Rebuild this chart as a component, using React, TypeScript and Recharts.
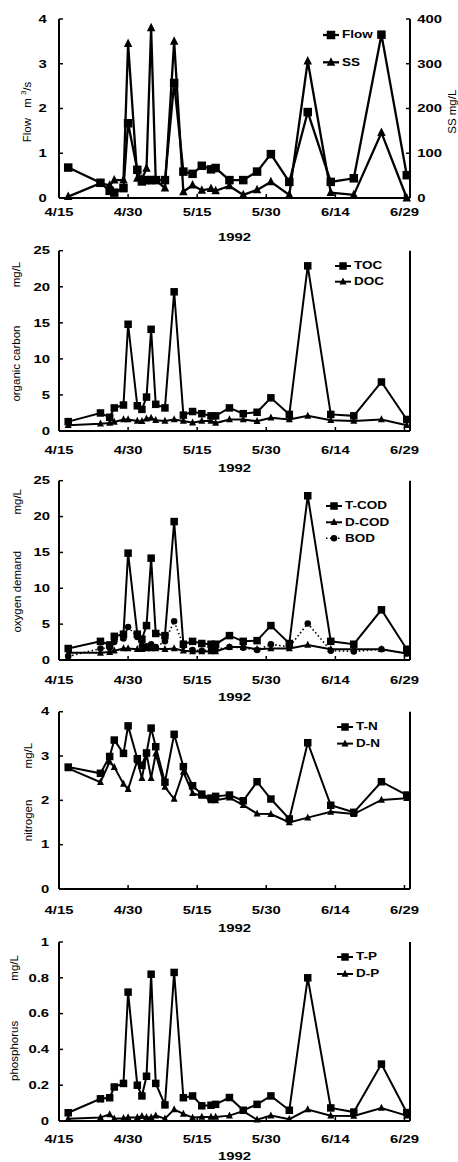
import React from "react";
import { LineChart, Line, XAxis, YAxis, Label, Legend } from "recharts";

// sampling days, counted from 4/15/1992
const days = [2, 9, 11, 12, 14, 15, 17, 18, 19, 20, 21, 23, 25, 27, 29, 31, 33, 34, 37, 40, 43, 46, 50, 54, 59, 64, 70, 75.5];
const dateTicks = [0, 15, 30, 45, 60, 75];
const dateLabels = ["4/15", "4/30", "5/15", "5/30", "6/14", "6/29"];

const flow = [0.68, 0.34, 0.16, 0.12, 0.22, 1.67, 0.63, 0.37, 0.4, 0.4, 0.4, 0.4, 2.57, 0.59, 0.54, 0.72, 0.64, 0.67, 0.4, 0.4, 0.59, 0.98, 0.36, 1.92, 0.36, 0.44, 3.65, 0.51];
const ss = [3, 33, 28, 40, 40, 345, 44, 42, 66, 380, 40, 22, 350, 14, 29, 17, 21, 16, 27, 7, 18, 36, 7, 306, 12, 7, 146, 0];

const toc = [1.3, 2.5, 1.9, 3.2, 3.6, 14.8, 3.5, 3.0, 4.7, 14.1, 3.7, 3.2, 19.3, 2.2, 2.7, 2.4, 2.1, 2.1, 3.2, 2.4, 2.6, 4.6, 2.3, 22.9, 2.3, 2.1, 6.8, 1.6];
const doc = [0.8, 1.0, 1.1, 1.25, 1.6, 1.6, 1.4, 1.35, 1.7, 1.8, 1.5, 1.4, 1.6, 1.4, 1.15, 1.4, 1.4, 1.1, 1.6, 1.6, 1.35, 1.85, 1.6, 2.1, 1.5, 1.4, 1.6, 0.8];

const tCod = [1.6, 2.6, 2.1, 3.3, 3.6, 14.9, 3.6, 2.9, 4.8, 14.2, 3.7, 3.4, 19.3, 2.2, 2.6, 2.3, 2.2, 2.2, 3.4, 2.6, 2.7, 4.8, 2.3, 22.9, 2.6, 2.2, 7.0, 1.5];
const dCod = [1.0, 1.0, 1.1, 1.3, 1.6, 1.6, 1.5, 1.5, 1.6, 1.6, 1.6, 1.5, 1.6, 1.3, 1.2, 1.2, 1.2, 1.2, 1.8, 1.8, 1.5, 1.6, 1.6, 2.1, 1.5, 1.5, 1.5, 0.9];
const bod = [0.5, 1.6, 1.7, 2.5, 3.0, 4.6, 3.2, 2.0, 1.9, 2.2, 1.8, 2.6, 5.4, 2.0, 1.4, 1.3, 1.4, 1.5, 1.8, 1.7, 1.4, 2.2, 1.8, 5.1, 1.3, 1.2, 1.5, 0.9];

const tN = [2.75, 2.61, 2.99, 3.36, 3.06, 3.68, 2.94, 2.79, 3.07, 3.63, 3.21, 2.41, 3.49, 2.76, 2.33, 2.14, 2.05, 2.09, 2.12, 1.99, 2.42, 2.03, 1.58, 3.3, 1.89, 1.73, 2.42, 2.12];
const dN = [2.72, 2.41, 2.87, 2.75, 2.37, 2.25, 2.9, 2.5, 3.05, 2.5, 3.05, 2.3, 2.03, 2.64, 2.16, 2.1, 2.0, 2.0, 2.06, 1.89, 1.7, 1.69, 1.5, 1.61, 1.74, 1.69, 2.01, 2.05];

const tP = [0.046, 0.124, 0.13, 0.19, 0.21, 0.72, 0.2, 0.14, 0.25, 0.82, 0.21, 0.09, 0.83, 0.13, 0.14, 0.085, 0.088, 0.093, 0.131, 0.06, 0.093, 0.14, 0.06, 0.8, 0.073, 0.05, 0.318, 0.047];
const dP = [0.013, 0.02, 0.037, 0.013, 0.015, 0.02, 0.02, 0.027, 0.02, 0.02, 0.03, 0.013, 0.065, 0.04, 0.019, 0.022, 0.022, 0.022, 0.03, 0.055, 0.007, 0.03, 0.01, 0.064, 0.03, 0.028, 0.073, 0.03];

const W = 458;
const PLOT_LEFT = 59;
const PLOT_RIGHT = 410;
const X_MAX = 76.2;
const SX = 1.35; // the scan is stretched sideways
const font = '"Liberation Sans", Arial, sans-serif';
const frame = { stroke: "#000", strokeWidth: 2 };
const tickLn = { stroke: "#000", strokeWidth: 1.5 };

type Marker = "square" | "triangle" | "circle";

type Series = {
  key: string;
  name: string;
  values: number[];
  marker: Marker;
  size: number;
  width: number;
  dash?: string;
  right?: boolean;
};

function drawMarker(kind: Marker, cx: number, cy: number, s: number, key?: React.Key) {
  if (kind === "square")
    return <rect key={key} x={cx - s / 2} y={cy - s / 2} width={s} height={s} fill="#000" />;
  if (kind === "triangle")
    return (
      <path
        key={key}
        d={`M${cx},${cy - s * 0.6}L${cx + s / 2},${cy + s * 0.4}L${cx - s / 2},${cy + s * 0.4}Z`}
        fill="#000"
      />
    );
  return <circle key={key} cx={cx} cy={cy} r={s / 2} fill="#000" />;
}

const dotOf = (kind: Marker, s: number) => (p: any) => {
  if (p.cx == null || p.cy == null) return <g key={p.index} />;
  return drawMarker(kind, p.cx, p.cy, s, p.index);
};

function SText(props: { x: number; y: number; anchor: "start" | "middle" | "end"; size: number; children: React.ReactNode }) {
  return (
    <text
      transform={`translate(${props.x},${props.y}) scale(${SX},1)`}
      textAnchor={props.anchor}
      dominantBaseline="central"
      fontFamily={font}
      fontSize={props.size}
      fontWeight={700}
      fill="#000"
    >
      {props.children}
    </text>
  );
}

const xTick = (p: any) => (
  <SText x={p.x} y={p.y} anchor="middle" size={11}>
    {dateLabels[dateTicks.indexOf(p.payload.value)]}
  </SText>
);
const yTickL = (p: any) => (
  <SText x={p.x} y={p.y} anchor="end" size={11}>
    {String(p.payload.value)}
  </SText>
);
const yTickR = (p: any) => (
  <SText x={p.x} y={p.y} anchor="start" size={11}>
    {String(p.payload.value)}
  </SText>
);

type PanelProps = {
  top: number;
  plotTop: number;
  plotBottom: number;
  yMax: number;
  yTicks: number[];
  yTickMargin: number;
  tickGap: number;
  yearGap: number;
  title: [string, string];
  titleGap: number;
  titleX: number;
  titleY: number;
  series: Series[];
  legendX: number;
  legendY: number[];
  right?: { max: number; ticks: number[]; tickMargin: number; title: string; titleX: number; titleY: number };
};

function VTitle(props: { x: number; y: number; children: React.ReactNode }) {
  return (
    <text
      transform={`translate(${props.x},${props.y}) rotate(-90)`}
      textAnchor="middle"
      dominantBaseline="central"
      fontFamily={font}
      fontSize={11.5}
      fill="#000"
    >
      {props.children}
    </text>
  );
}

// unit part after the gap; "m3/s" gets a raised 3
function unitPart(u: string, gap: number) {
  if (u === "m3/s")
    return (
      <>
        <tspan dx={gap}>{" m "}</tspan>
        <tspan dy={-4} fontSize={8}>
          3
        </tspan>
        <tspan dy={4}>/s</tspan>
      </>
    );
  return <tspan dx={gap}>{" " + u}</tspan>;
}

function Panel(p: PanelProps) {
  const height = Math.round(p.plotBottom + p.yearGap + 10 - p.top);
  const xAxisH = height - (p.plotBottom - p.top);
  const rows = days.map((d, i) => {
    const r: Record<string, number> = { day: d };
    p.series.forEach((s) => (r[s.key] = s.values[i]));
    return r;
  });
  const first = p.legendY[0];
  const legendH = p.legendY[p.legendY.length - 1] - first + 16;

  return (
    <div style={{ position: "absolute", left: 0, top: p.top }}>
      <LineChart width={W} height={height} data={rows} margin={{ top: p.plotTop - p.top, right: 0, bottom: 0, left: 0 }}>
        <XAxis
          dataKey="day"
          type="number"
          domain={[0, X_MAX]}
          ticks={dateTicks}
          interval={0}
          height={xAxisH}
          axisLine={frame}
          tickLine={tickLn}
          tickSize={-4}
          tickMargin={p.tickGap + 4}
          tick={xTick}
        >
          <Label
            content={() => (
              <SText x={(PLOT_LEFT + PLOT_RIGHT) / 2} y={p.plotBottom - p.top + p.yearGap} anchor="middle" size={11}>
                1992
              </SText>
            )}
          />
        </XAxis>
        <XAxis
          xAxisId="top"
          orientation="top"
          dataKey="day"
          type="number"
          domain={[0, X_MAX]}
          height={0}
          tick={false}
          tickLine={false}
          axisLine={frame}
        />
        <YAxis
          yAxisId="left"
          width={PLOT_LEFT}
          type="number"
          domain={[0, p.yMax]}
          ticks={p.yTicks}
          interval={0}
          axisLine={frame}
          tickLine={tickLn}
          tickSize={-4}
          tickMargin={p.yTickMargin}
          tick={yTickL}
        >
          <Label
            content={() => (
              <VTitle x={p.titleX} y={p.titleY - p.top}>
                <tspan>{p.title[0]}</tspan>
                {unitPart(p.title[1], p.titleGap)}
              </VTitle>
            )}
          />
        </YAxis>
        {p.right ? (
          <YAxis
            yAxisId="right"
            orientation="right"
            width={W - PLOT_RIGHT}
            type="number"
            domain={[0, p.right.max]}
            ticks={p.right.ticks}
            interval={0}
            axisLine={frame}
            tickLine={tickLn}
            tickSize={-4}
            tickMargin={p.right.tickMargin}
            tick={yTickR}
          >
            <Label
              content={() => (
                <VTitle x={p.right!.titleX} y={p.right!.titleY - p.top}>
                  {p.right!.title}
                </VTitle>
              )}
            />
          </YAxis>
        ) : (
          <YAxis
            yAxisId="right"
            orientation="right"
            width={W - PLOT_RIGHT}
            type="number"
            domain={[0, p.yMax]}
            tick={false}
            tickLine={false}
            axisLine={frame}
          />
        )}
        {p.series.map((s) => (
          <Line
            key={s.key}
            yAxisId={s.right ? "right" : "left"}
            dataKey={s.key}
            name={s.name}
            type="linear"
            stroke="#000"
            strokeWidth={s.width}
            strokeDasharray={s.dash}
            dot={dotOf(s.marker, s.size)}
            activeDot={false}
            isAnimationActive={false}
          />
        ))}
        <Legend
          layout="vertical"
          align="center"
          verticalAlign="middle"
          wrapperStyle={{ position: "absolute", left: p.legendX, top: first - p.top - 8, width: 100, height: legendH }}
          content={() => (
            <svg width={100} height={legendH} style={{ display: "block", overflow: "visible" }}>
              {p.series.map((s, i) => {
                const y = p.legendY[i] - first + 8;
                return (
                  <g key={s.key}>
                    <line x1={0} x2={16} y1={y} y2={y} stroke="#000" strokeWidth={s.width} strokeDasharray={s.dash} />
                    {drawMarker(s.marker, 8, y, s.size)}
                    <SText x={19} y={y} anchor="start" size={10}>
                      {s.name}
                    </SText>
                  </g>
                );
              })}
            </svg>
          )}
        />
      </LineChart>
    </div>
  );
}

const sq = (key: string, name: string, values: number[], size = 7.5, width = 2): Series => ({
  key,
  name,
  values,
  marker: "square",
  size,
  width,
});
const tri = (key: string, name: string, values: number[], size = 7, width = 2): Series => ({
  key,
  name,
  values,
  marker: "triangle",
  size,
  width,
});

const panels: PanelProps[] = [
  {
    top: 0,
    plotTop: 19,
    plotBottom: 198,
    yMax: 4,
    yTicks: [0, 1, 2, 3, 4],
    yTickMargin: 16.3,
    tickGap: 14,
    yearGap: 39.5,
    title: ["Flow", "m3/s"],
    titleGap: 7,
    titleX: 27,
    titleY: 112,
    series: [sq("flow", "Flow", flow, 8.5, 2.3), { ...tri("ss", "SS", ss, 8.5, 2.3), right: true }],
    legendX: 323,
    legendY: [35, 62.3],
    right: { max: 400, ticks: [0, 100, 200, 300, 400], tickMargin: 11.3, title: "SS mg/L", titleX: 452, titleY: 111.7 },
  },
  {
    top: 242,
    plotTop: 250.7,
    plotBottom: 431,
    yMax: 25,
    yTicks: [0, 5, 10, 15, 20, 25],
    yTickMargin: 13,
    tickGap: 19.3,
    yearGap: 37.3,
    title: ["organic carbon", "mg/L"],
    titleGap: 35,
    titleX: 16,
    titleY: 331.7,
    series: [sq("toc", "TOC", toc), tri("doc", "DOC", doc)],
    legendX: 335,
    legendY: [266, 281.7],
  },
  {
    top: 472,
    plotTop: 480.7,
    plotBottom: 660,
    yMax: 25,
    yTicks: [0, 5, 10, 15, 20, 25],
    yTickMargin: 13,
    tickGap: 20.3,
    yearGap: 37.3,
    title: ["oxygen demand", "mg/L"],
    titleGap: 33,
    titleX: 17,
    titleY: 560.8,
    series: [
      sq("tcod", "T-COD", tCod),
      tri("dcod", "D-COD", dCod),
      { key: "bod", name: "BOD", values: bod, marker: "circle", size: 6.5, width: 1.6, dash: "1.5 2.5" },
    ],
    legendX: 326,
    legendY: [506, 522.3, 538.3],
  },
  {
    top: 703,
    plotTop: 711.7,
    plotBottom: 889,
    yMax: 4,
    yTicks: [0, 1, 2, 3, 4],
    yTickMargin: 13.7,
    tickGap: 21.3,
    yearGap: 39.3,
    title: ["nitrogen", "mg/L"],
    titleGap: 28,
    titleX: 27.5,
    titleY: 792,
    series: [sq("tn", "T-N", tN), tri("dn", "D-N", dN)],
    legendX: 337,
    legendY: [726.7, 743.3],
  },
  {
    top: 933,
    plotTop: 942,
    plotBottom: 1121,
    yMax: 1,
    yTicks: [0, 0.2, 0.4, 0.6, 0.8, 1],
    yTickMargin: 14,
    tickGap: 17.8,
    yearGap: 35.3,
    title: ["phosphorus", "mg/L"],
    titleGap: 37,
    titleX: 14,
    titleY: 1018,
    series: [sq("tp", "T-P", tP), tri("dp", "D-P", dP)],
    legendX: 337,
    legendY: [957.3, 974.3],
  },
];

export default function App() {
  return (
    <div style={{ position: "absolute", left: 0, top: 0, width: W, height: 1162, background: "#fff", overflow: "hidden" }}>
      {panels.map((p, i) => (
        <Panel key={i} {...p} />
      ))}
    </div>
  );
}
